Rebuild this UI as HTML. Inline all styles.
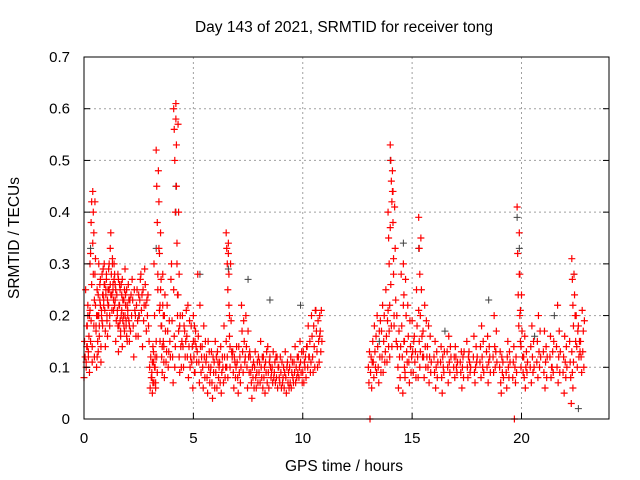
<!DOCTYPE html>
<html><head><meta charset="utf-8"><style>
body{margin:0;background:#fff}
svg{display:block;font-family:"Liberation Sans",sans-serif}
</style></head><body>
<svg id="chart" width="640" height="480" viewBox="0 0 640 480">
<rect width="640" height="480" fill="#fff"/>
<g id="grid"></g>
<g id="gray"></g>
<g id="red"></g>
<rect x="84" y="57" width="525" height="362" fill="none" stroke="#000" stroke-width="1"/>
<g id="ticks"></g>
<text x="344" y="32" text-anchor="middle" font-size="15.5">Day 143 of 2021, SRMTID for receiver tong</text>
<text x="344" y="471" text-anchor="middle" font-size="15.5">GPS time / hours</text>
<text transform="translate(19,238) rotate(-90)" text-anchor="middle" font-size="15.5">SRMTID / TECUs</text>
</svg>
<script>
const xTicks=[0,5,10,15,20];
const yTicks=[0,0.1,0.2,0.3,0.4,0.5,0.6,0.7];
const yTickLabels=["0","0.1","0.2","0.3","0.4","0.5","0.6","0.7"];
const redT=[0.0,0.1,0.2,0.3,0.4,0.5,0.6,0.7,0.8,0.9,1.0,1.1,1.2,1.3,1.4,1.5,1.6,1.7,1.8,1.9,2.0,2.2,2.4,2.6,2.8,3.0,3.1,3.2,3.3,3.4,3.5,3.6,3.8,4.0,4.1,4.2,4.3,4.5,4.7,4.9,5.0,5.2,5.4,5.6,5.8,6.0,6.2,6.4,6.5,6.6,6.8,7.0,7.2,7.4,7.6,7.8,8.0,8.2,8.4,8.6,8.8,9.0,9.2,9.4,9.6,9.8,10.0,10.2,10.4,10.6,10.7,13.0,13.2,13.4,13.6,13.8,13.9,14.0,14.1,14.3,14.5,14.6,14.8,15.0,15.2,15.3,15.5,15.7,16.0,16.3,16.6,16.9,17.2,17.5,17.8,18.1,18.4,18.7,19.0,19.3,19.6,19.8,19.9,20.1,20.4,20.7,21.0,21.3,21.6,21.9,22.2,22.3,22.5,22.7];
const redV=[[.08,.15,.12,.25],[.10,.18,.14,.22],[.12,.16,.20,.30],[.32,.38,.42,.14],[.44,.40,.36,.12],[.28,.22,.18,.10],[.12,.20,.24,.30],[.16,.26,.22,.11],[.20,.28,.18,.24],[.22,.30,.26,.14],[.24,.27,.20,.16],[.25,.22,.30,.18],[.33,.36,.28,.24],[.30,.25,.21,.27],[.22,.26,.15,.19],[.24,.20,.28,.13],[.18,.22,.25,.16],[.26,.21,.14,.19],[.20,.23,.17,.29],[.24,.18,.16,.22],[.21,.26,.19,.15],[.27,.23,.18,.12],[.22,.25,.19,.16],[.28,.21,.24,.14],[.26,.22,.17,.23],[.10,.06,.12,.08],[.09,.05,.14,.11],[.30,.20,.10,.07],[.52,.45,.38,.28],[.48,.42,.32,.22],[.25,.18,.12,.09],[.28,.20,.14,.08],[.22,.17,.10,.13],[.30,.19,.12,.07],[.60,.56,.50,.40],[.61,.53,.34,.24],[.24,.17,.12,.09],[.20,.14,.10,.18],[.16,.12,.22,.08],[.18,.11,.14,.06],[.20,.12,.09,.15],[.28,.16,.11,.07],[.14,.10,.06,.18],[.12,.08,.05,.15],[.10,.13,.07,.04],[.15,.09,.12,.06],[.11,.07,.14,.05],[.18,.12,.08,.10],[.36,.33,.30,.25],[.34,.22,.16,.10],[.13,.09,.06,.12],[.11,.08,.05,.14],[.22,.17,.13,.09],[.20,.14,.10,.06],[.12,.09,.07,.04],[.10,.13,.08,.06],[.09,.11,.07,.15],[.12,.08,.10,.05],[.14,.09,.06,.11],[.10,.07,.13,.08],[.08,.12,.06,.10],[.09,.06,.11,.07],[.13,.08,.05,.10],[.10,.07,.12,.06],[.11,.09,.14,.07],[.12,.08,.10,.15],[.09,.13,.07,.11],[.14,.10,.18,.12],[.20,.16,.12,.09],[.21,.17,.13,.10],[.19,.15,.11,.20],[.10,.07,.13,0],[.15,.11,.08,.18],[.20,.14,.10,.07],[.17,.12,.22,.09],[.25,.16,.11,.19],[.40,.35,.30,.22],[.53,.50,.46,.42],[.44,.38,.28,.18],[.20,.14,.10,.06],[.28,.18,.12,.05],[.30,.24,.15,.09],[.22,.16,.11,.07],[.19,.13,.09,.15],[.25,.18,.12,.08],[.39,.33,.28,.20],[.17,.12,.08,.22],[.14,.10,.18,.07],[.12,.09,.15,.06],[.11,.14,.08,.05],[.13,.10,.07,.16],[.10,.12,.08,.14],[.11,.09,.13,.06],[.15,.10,.08,.12],[.12,.16,.09,.07],[.11,.14,.08,.18],[.13,.10,.16,.07],[.12,.09,.20,.14],[.10,.13,.07,.05],[.09,.06,.12,.15],[.08,.11,.14,0],[.41,.32,.24,.18],[.28,.20,.15,.10],[.12,.08,.16,.06],[.10,.14,.07,.18],[.11,.15,.08,.20],[.13,.09,.17,.06],[.12,.16,.08,.10],[.14,.10,.22,.07],[.09,.12,.05,.16],[.15,.11,.08,.03],[.31,.27,.22,.18],[.20,.14,.10,.17],[.15,.12,.09,.21]];
const redV2=[[.11,.14,.18,.20],[.13,.16,.09,.21],[.15,.19,.26,.11],[.34,.28,.18,.23],[.42,.31,.17,.20],[.25,.15,.13,.20],[.18,.23,.27,.14],[.21,.19,.24,.29],[.23,.26,.21,.17],[.25,.28,.19,.23],[.22,.29,.25,.20],[.26,.24,.28,.21],[.31,.26,.23,.30],[.28,.23,.25,.19],[.24,.21,.18,.27],[.22,.26,.19,.17],[.20,.24,.27,.23],[.23,.18,.25,.20],[.22,.19,.25,.15],[.20,.26,.23,.18],[.23,.17,.24,.20],[.25,.21,.20,.16],[.24,.20,.23,.27],[.25,.19,.22,.29],[.20,.24,.18,.15],[.08,.11,.07,.13],[.07,.10,.12,.06],[.15,.12,.09,.25],[.48,.33,.21,.15],[.36,.27,.18,.14],[.22,.15,.11,.20],[.24,.17,.11,.13],[.19,.15,.12,.27],[.25,.16,.10,.14],[.58,.45,.30,.20],[.57,.40,.28,.18],[.20,.14,.10,.15],[.17,.12,.15,.21],[.14,.19,.10,.12],[.15,.12,.18,.09],[.17,.14,.11,.13],[.22,.14,.09,.12],[.12,.08,.15,.11],[.10,.13,.07,.09],[.12,.09,.11,.06],[.13,.11,.08,.10],[.09,.12,.10,.07],[.15,.10,.12,.08],[.32,.28,.20,.14],[.30,.19,.13,.12],[.11,.08,.10,.14],[.09,.12,.07,.10],[.19,.15,.11,.12],[.17,.12,.09,.13],[.10,.08,.11,.06],[.09,.11,.07,.12],[.10,.08,.12,.06],[.11,.09,.13,.07],[.12,.10,.08,.09],[.09,.11,.07,.12],[.10,.08,.07,.12],[.08,.10,.06,.09],[.11,.07,.09,.06],[.09,.11,.08,.07],[.10,.08,.12,.09],[.11,.09,.13,.07],[.10,.12,.08,.14],[.12,.15,.09,.11],[.18,.14,.10,.21],[.19,.15,.11,.16],[.17,.13,.21,.15],[.09,.12,.06,.11],[.13,.10,.16,.09],[.17,.12,.19,.09],[.15,.20,.11,.13],[.21,.14,.17,.12],[.37,.26,.18,.14],[.48,.44,.31,.20],[.41,.33,.23,.15],[.17,.12,.08,.14],[.22,.15,.10,.08],[.27,.20,.13,.11],[.19,.14,.09,.12],[.16,.11,.13,.08],[.21,.15,.10,.13],[.35,.25,.16,.12],[.14,.10,.19,.12],[.12,.16,.09,.11],[.10,.13,.08,.11],[.12,.10,.09,.13],[.11,.09,.14,.12],[.12,.10,.09,.11],[.10,.12,.08,.13],[.13,.11,.09,.10],[.10,.14,.11,.12],[.12,.10,.15,.09],[.11,.14,.12,.09],[.10,.13,.17,.11],[.12,.09,.11,.08],[.10,.08,.13,.11],[.10,.07,.12,.09],[.36,.28,.21,.14],[.24,.17,.12,.09],[.10,.13,.09,.11],[.12,.09,.15,.10],[.13,.10,.17,.12],[.11,.14,.08,.12],[.10,.13,.09,.15],[.12,.17,.09,.13],[.11,.08,.14,.10],[.13,.09,.06,.11],[.28,.24,.20,.15],[.18,.12,.15,.13],[.13,.17,.10,.19]];
const grayT=[0.3,1.3,2.5,3.3,4.2,4.2,5.3,6.6,7.5,8.5,9.9,13.5,14.0,14.6,15.3,16.5,18.5,19.8,19.9,20.6,21.5,22.4,22.6];
const grayV=[0.33,0.30,0.20,0.33,0.45,0.40,0.28,0.29,0.27,0.23,0.22,0.15,0.50,0.34,0.33,0.17,0.23,0.39,0.33,0.16,0.20,0.28,0.02];
const X0=84,X1=609,Y0=419,Y1=57,XMAX=24,YMAX=0.7;
const xs=t=>X0+(X1-X0)*t/XMAX;
const ys=v=>Y0-(Y0-Y1)*v/YMAX;
const NS="http://www.w3.org/2000/svg";
function mk(tag,attrs,parent){const e=document.createElementNS(NS,tag);for(const k in attrs)e.setAttribute(k,attrs[k]);parent.appendChild(e);return e;}
const grid=document.getElementById('grid'),ticks=document.getElementById('ticks');
xTicks.forEach(t=>{const x=xs(t);
 if(t>0){const l=mk('line',{x1:x,x2:x,y1:Y0,y2:Y1,stroke:'#a0a0a0','stroke-dasharray':'2,3'},grid);
 
 }
 mk('line',{x1:x,x2:x,y1:Y0,y2:Y0-6,stroke:'#000'},ticks);
 const tx=mk('text',{x:x,y:Y0+24,'text-anchor':'middle','font-size':15},ticks);tx.textContent=t;
 
 });
yTicks.forEach((v,i)=>{const y=ys(v);
 if(v>0&&v<YMAX){const l=mk('line',{x1:X0,x2:X1,y1:y,y2:y,stroke:'#a0a0a0','stroke-dasharray':'2,3'},grid);
 
 }
 mk('line',{x1:X0,x2:X0+6,y1:y,y2:y,stroke:'#000'},ticks);
 mk('line',{x1:X1,x2:X1-6,y1:y,y2:y,stroke:'#000'},ticks);
 const tx=mk('text',{x:X0-14,y:y+5,'text-anchor':'end','font-size':15},ticks);tx.textContent=yTickLabels[i];
 
 });
function plus(x,y){return `M${x-3.5},${y}h7M${x},${y-3.5}v7`;}
let gd='';grayT.forEach((t,i)=>{gd+=plus(xs(t),ys(grayV[i]));});
const gp=mk('path',{d:gd,stroke:'#404040','stroke-width':1,fill:'none'},document.getElementById('gray'));


let rd='';
redT.forEach((t,i)=>{
 const vals=(redV[i]||[]).concat(redV2[i]||[]);
 vals.forEach((v,j)=>{rd+=plus(xs(t+j*0.025),ys(v));});
});
const rp=mk('path',{d:rd,stroke:'#ff0000','stroke-width':1.2,fill:'none'},document.getElementById('red'));


</script>
</body></html>
